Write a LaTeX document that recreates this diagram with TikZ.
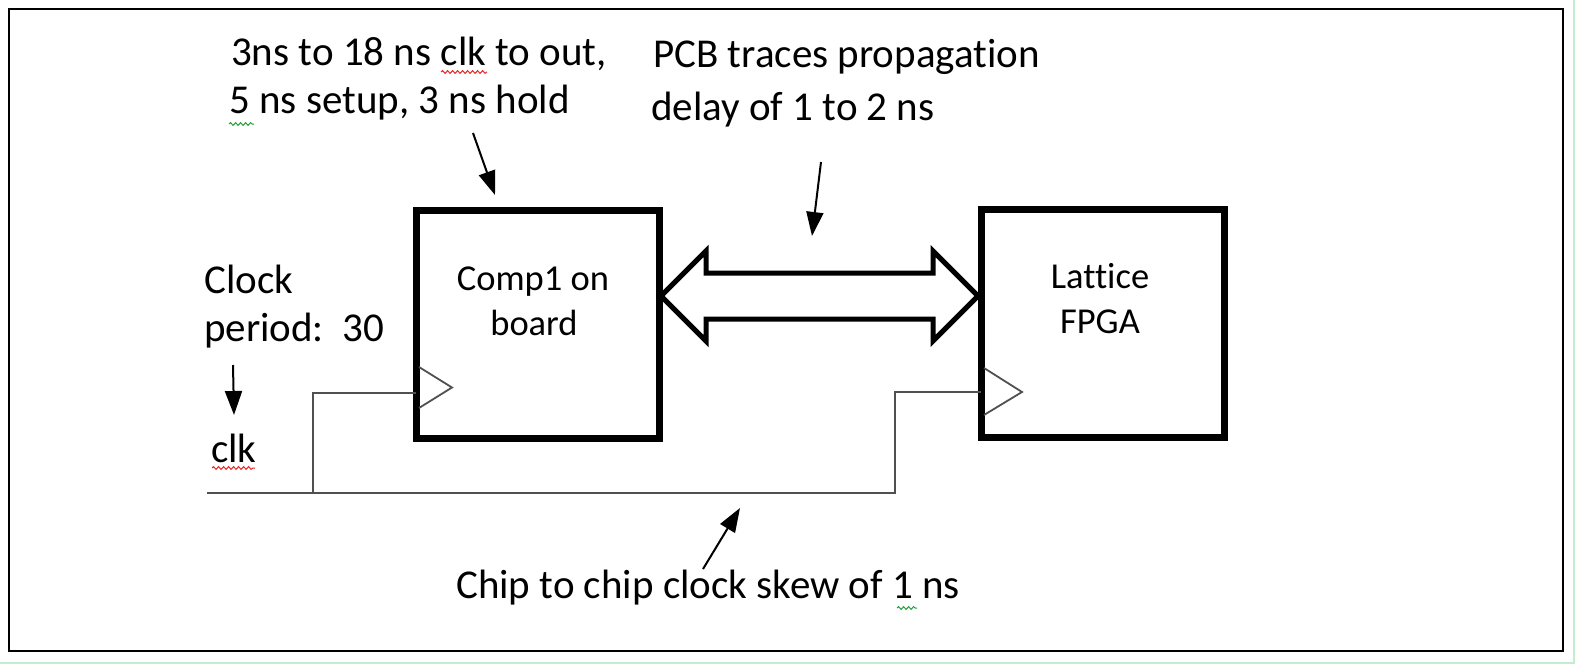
\documentclass[tikz,border=0pt]{standalone}
\usepackage{fontspec}
\setmainfont{Carlito}[Ligatures=NoCommon]
\usetikzlibrary{arrows.meta,decorations.pathmorphing,calc}
\definecolor{framegreen}{RGB}{198,236,208}
\definecolor{wiregray}{RGB}{80,80,80}
\definecolor{spellred}{RGB}{230,40,40}
\definecolor{spellgreen}{RGB}{40,160,60}
\begin{document}
\begin{tikzpicture}[x=1pt,y=-1pt,
  chip/.style={draw=black,line width=7pt,inner sep=0pt,outer sep=0pt,minimum width=243pt,minimum height=228pt},
  ann/.style={inner sep=0pt,anchor=base west,font=\fontsize{41}{48}\selectfont},
  boxtxt/.style={inner sep=0pt,anchor=base,font=\fontsize{36.5}{44}\selectfont},
  note/.style={draw=black,line width=2pt,-{Triangle[length=24pt,width=17pt]}},
  clkwire/.style={draw=wiregray,line width=2pt},
  clktri/.style={draw=wiregray,line width=1.8pt,line join=miter},
  bus/.style={draw=black,line width=5pt,line join=miter},
  wavy/.style={decorate,decoration={snake,amplitude=1.4pt,segment length=5pt},line width=1pt}
]
\useasboundingbox (0,0) rectangle (1575,664);
\fill[white] (0,0) rectangle (1575,664);
% outer frame
\draw[line width=2.5pt] (9,9) rectangle (1563,651);
\draw[framegreen,line width=1.5pt] (0,663) -- (1574,663) -- (1574,0);

% chips
\node[chip] (comp) at (537.5,324) {};
\node[chip] (latt) at (1102.5,323.5) {};
\node[boxtxt] (comptxt1) at (533,290) {Comp1 on};
\node[boxtxt] (comptxt2) at (534,335) {board};
\node[boxtxt] (latttxt1) at (1100,288) {Lattice};
\node[boxtxt] (latttxt2) at (1100,333) {FPGA};

% bus double arrow
\coordinate (busL) at (661,296);
\coordinate (busR) at (978,296);
\draw[bus] (busL) -- ($(busL)+(45,-45)$) -- ($(busL)+(45,-23)$) -- ($(busR)+(-45,-23)$)
  -- ($(busR)+(-45,-45)$) -- (busR) -- ($(busR)+(-45,45)$) -- ($(busR)+(-45,23)$)
  -- ($(busL)+(45,23)$) -- ($(busL)+(45,45)$) -- cycle;

% clock wiring
\coordinate (clkstart) at (207,493);
\coordinate (clktap) at (313,493);
\coordinate (clkturn) at (895,493);
\coordinate (ck1) at (416,393);
\coordinate (ck2) at (981,392);
\draw[clkwire] (clkstart) -- (clkturn) |- (ck2);
\draw[clkwire] (clktap) |- (ck1);
\draw[clktri] (419,367) -- (452,387.5) -- (419,408);
\draw[clktri] (984,368) -- (1022,392) -- (984,415);

% annotations
\node[ann] (t1a) at (231,65) {3ns to 18 ns clk to out,};
\node[ann] (t1b) at (229,113) {5 ns setup, 3 ns hold};
\node[ann] (t2a) at (653,67) {PCB traces propagation};
\node[ann] (t2b) at (651,120) {delay of 1 to 2 ns};
\node[ann] (t3a) at (204,293) {Clock};
\node[ann] (t3b) at (204,341) {period:\ \ 30};
\node[ann] (t4) at (211,462) {clk};
\node[ann] (t5) at (456,598) {Chip to chip clock skew of 1 ns};

% spelling marks
\draw[spellred,wavy] (441,72) -- (487,72);
\draw[spellgreen,wavy] (229,124) -- (254,124);
\draw[spellred,wavy] (212,468) -- (255,468);
\draw[spellgreen,wavy] (897,608) -- (917,608);

% annotation arrows
\coordinate (a1s) at (473,133); \coordinate (a1e) at (495,195);
\coordinate (a2s) at (821,162); \coordinate (a2e) at (812,236);
\coordinate (a3s) at (233,365); \coordinate (a3e) at (234,415);
\coordinate (a4s) at (703,569); \coordinate (a4e) at (740,508);
\draw[note] (a1s) -- (a1e);
\draw[note] (a2s) -- (a2e);
\draw[note] (a3s) -- (a3e);
\draw[note] (a4s) -- (a4e);
\end{tikzpicture}
\end{document}
